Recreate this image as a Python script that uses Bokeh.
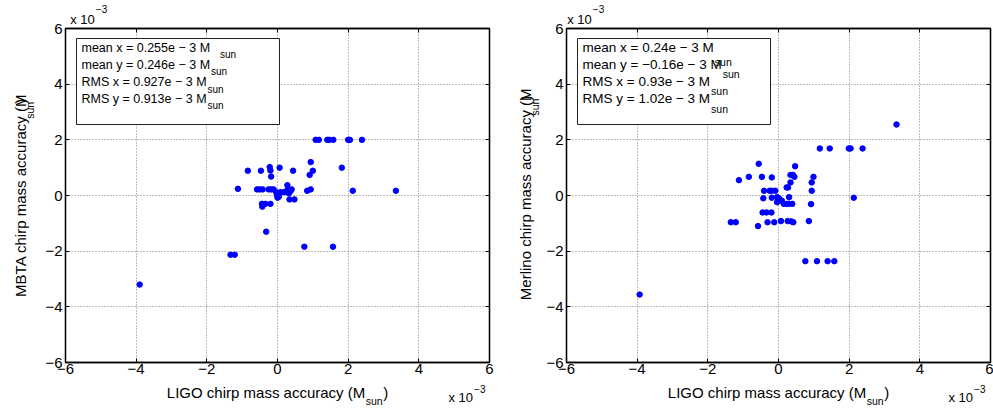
import math
from bokeh.plotting import figure
from bokeh.models import Range1d, FixedTicker, LinearAxis, Label, BoxAnnotation
from bokeh.layouts import row, column
from bokeh.embed import file_html
from bokeh.resources import INLINE

# ---------------- data (units of 1e-3 M_sun) ----------------
mbta_ligo_x = [1.08, 1.17, 1.41, 1.47, 1.58, 2.00, 2.05, 2.39,
               0.94, -0.84, -0.47, -0.22, -0.20, 0.06, 0.44, 1.00, 0.91, 1.82,
               -0.18, -1.12, -0.58, -0.50, -0.42, -0.25, -0.18, -0.11,
               -0.04, 0.02, -0.01, 0.04, 0.00,
               0.08, 0.18, 0.27, 0.32, 0.37, 0.40, 0.28,
               0.84, 0.94, 2.13, 3.35,
               -0.44, -0.34, -0.20, -0.43, 0.34, 0.48,
               -0.32, 0.76, 1.57, -1.33, -1.21, -3.90]
mbta_y = [2.00, 2.00, 2.00, 2.00, 2.00, 2.00, 2.00, 2.00,
          1.20, 0.89, 0.89, 1.02, 0.90, 1.00, 0.89, 0.89, 0.74, 1.00,
          0.68, 0.24, 0.22, 0.22, 0.22, 0.22, 0.22, 0.22,
          0.12, 0.06, 0.00, -0.04, -0.08,
          0.12, 0.12, 0.18, 0.08, 0.16, 0.22, 0.37,
          0.17, 0.22, 0.17, 0.17,
          -0.30, -0.30, -0.30, -0.40, -0.14, -0.14,
          -1.30, -1.84, -1.84, -2.13, -2.13, -3.20]

merlino_ligo_x = [1.17, 1.45, 1.99, 2.04, 2.38,
                  -0.56, 0.47, -1.12, -0.84, -0.47, -0.19,
                  0.34, 0.41, 0.45, 0.99, 0.94, 0.34, 0.23, 0.27,
                  -0.41, -0.25, -0.19, -0.09, 0.94,
                  -0.43, -0.19,
                  -0.04, 0.01, 0.06, -0.04, 0.10, 0.15, 0.23, 0.29, 0.39,
                  0.30, 2.13, 0.92,
                  -0.45, -0.34, -0.20, -1.35, -1.21, -0.58, -0.31, -0.12,
                  0.07, 0.26, 0.36, 0.42, 0.86,
                  0.76, 1.09, 1.39, 1.58, 3.34, -3.93]
merlino_y = [1.69, 1.69, 1.69, 1.69, 1.69,
             1.14, 1.05, 0.55, 0.67, 0.67, 0.65,
             0.74, 0.74, 0.67, 0.67, 0.47, 0.47, 0.29, 0.29,
             0.17, 0.17, 0.17, 0.17, 0.17,
             -0.10, -0.08,
             -0.06, -0.10, -0.16, -0.24, -0.20, -0.30, -0.30, -0.30, -0.30,
             -0.06, -0.08, -0.31,
             -0.61, -0.61, -0.61, -0.96, -0.96, -1.10, -0.96, -0.96,
             -0.92, -0.92, -0.93, -0.96, -0.92,
             -2.36, -2.36, -2.36, -2.36, 2.55, -3.56]

ticks = [-6, -4, -2, 0, 2, 4, 6]
tick_labels = ["\u22126", "\u22124", "\u22122", "0", "2", "4", "6"]

mbta_stats = ["mean x = 0.255e \u2212 3 M", "mean y = 0.246e \u2212 3 M",
              "RMS x = 0.927e \u2212 3 M", "RMS y = 0.913e \u2212 3 M"]
merlino_stats = ["mean x = 0.24e \u2212 3 M", "mean y = \u22120.16e \u2212 3 M",
                 "RMS x = 0.93e \u2212 3 M", "RMS y = 1.02e \u2212 3 M"]
x_title = "LIGO chirp mass accuracy (M"
mbta_title = "MBTA chirp mass accuracy (M"
merlino_title = "Merlino chirp mass accuracy (M"
sub_txt = "sun"
scale_txt = "x 10"
scale_exp = "\u22123"

FONT = "Liberation Sans"
HELV = {' ': 278, '.': 278, '=': 584, '\u2212': 584, '(': 333, ')': 333,
        'a': 556, 'c': 500, 'e': 556, 'h': 556, 'i': 222, 'l': 222, 'm': 833,
        'n': 556, 'o': 556, 'p': 556, 'r': 333, 's': 500, 'u': 556, 'x': 500,
        'y': 500, 'A': 667, 'B': 667, 'G': 778, 'I': 278, 'L': 556, 'M': 833,
        'O': 778, 'R': 722, 'S': 667, 'T': 611}
K = 0.35   # label anchor sits this many ems above the drawn baseline


def tw(s, size):
    return sum(HELV.get(c, 556) for c in s) * size / 1000.0


def lab(fig, x, y, text, size, angle=0.0):
    fig.add_layout(Label(x=x, y=y, text=text, text_font=FONT, text_font_size=f"{size}px",
                         text_align="left", text_baseline="alphabetic", text_color="black",
                         angle=angle, angle_units="rad"))


MAIN_H, BOT_H = 384, 24
BT, BB = 28, 22          # frame top at 28, bottom at 362
FW, FH = 424, MAIN_H - BT - BB


def strip(w, h):
    s = figure(width=w, height=h, x_range=Range1d(0, w), y_range=Range1d(0, h),
               min_border=0, x_axis_location=None, y_axis_location=None,
               toolbar_location=None, tools="", output_backend="svg",
               background_fill_color="white", border_fill_color="white")
    s.outline_line_color = None
    s.xgrid.visible = False
    s.ygrid.visible = False
    return s


def px_axis(tick, text, size, standoff):
    return LinearAxis(x_range_name="px", ticker=FixedTicker(ticks=[tick]),
                      major_label_overrides={tick: text},
                      axis_line_color=None, major_tick_line_color=None,
                      minor_tick_line_color=None, major_tick_in=0, major_tick_out=0,
                      major_label_standoff=standoff, major_label_text_font=FONT,
                      major_label_text_font_size=f"{size}px", major_label_text_color="black")


def main_fig(xs, ys, width, bl, stats, st_size, st_sub, box_r, line_extra, scale_dx):
    br = width - bl - FW
    p = figure(width=width, height=MAIN_H, x_range=Range1d(-6, 6), y_range=Range1d(-6, 6),
               min_border_left=bl, min_border_right=br, min_border_top=BT,
               min_border_bottom=BB, output_backend="svg", toolbar_location=None,
               tools="", background_fill_color="white", border_fill_color="white")

    def X(dx):
        return -6 + dx * 12.0 / FW

    def Y(dy):
        return 6 - dy * 12.0 / FH

    p.outline_line_color = "black"
    p.outline_line_width = 1.3
    for ax in (p.xaxis[0], p.yaxis[0]):
        ax.ticker = FixedTicker(ticks=ticks)
        ax.major_label_overrides = {t: l for t, l in zip(ticks, tick_labels)}
        ax.major_tick_in = 4
        ax.major_tick_out = 0
        ax.minor_tick_line_color = None
        ax.axis_line_width = 1.3
        ax.axis_line_color = "black"
        ax.major_tick_line_color = "black"
        ax.major_label_text_font = FONT
        ax.major_label_text_font_size = "15px"
        ax.major_label_text_color = "black"
    p.xaxis.major_label_standoff = 1
    p.yaxis.major_label_standoff = 3
    for loc in ("above", "right"):
        a = LinearAxis(ticker=FixedTicker(ticks=ticks), major_tick_in=4, major_tick_out=0,
                       minor_tick_line_color=None, major_label_text_color=None,
                       major_label_standoff=0, axis_line_width=1.3, axis_line_color="black")
        p.add_layout(a, loc)

    # "x 10^-3" scale factor above the frame: axes in frame-pixel units
    p.extra_x_ranges = {"px": Range1d(0, FW)}
    tick_c = round(scale_dx + tw(scale_txt, 13) / 2)
    sup_c = round(scale_dx + tw(scale_txt, 13) + 1 + tw(scale_exp, 10) / 2)
    p.add_layout(px_axis(tick_c, scale_txt, 13, 2), "above")
    p.add_layout(px_axis(sup_c, scale_exp, 10, -4), "above")

    for g in (p.xgrid[0], p.ygrid[0]):
        g.ticker = FixedTicker(ticks=ticks)
        g.grid_line_color = "#7a7a7a"
        g.grid_line_dash = "1 2"
        g.grid_line_width = 1

    p.scatter(xs, ys, size=5.5, color="#0000ff", line_color="#0000ff")

    p.add_layout(BoxAnnotation(left=X(11), right=X(box_r), top=Y(10), bottom=Y(96),
                               fill_color="white", fill_alpha=1.0, line_color="#222222",
                               line_width=1, line_alpha=1.0))
    baselines = [23.5, 40.5, 58, 74.5]
    for i, s in enumerate(stats):
        lab(p, X(16), Y(baselines[i] - K * st_size), s, st_size)
        gx, gy = line_extra[i]
        lab(p, X(16 + tw(s, st_size) + 1 + gx), Y(baselines[i] + 6 + gy - K * st_sub),
            sub_txt, st_sub)
    return p


def x_title_strip(w, center_x, scale_x):
    s = strip(w, BOT_H)
    H = BOT_H
    T, S = 15, 10.5
    L = tw(x_title, T) + 1 + tw(sub_txt, S) + tw(")", T)
    x0 = center_x - L / 2
    lab(s, x0, H - (13 - K * T), x_title, T)
    xs1 = x0 + tw(x_title, T) + 0.5
    lab(s, xs1, H - (20 - K * S), sub_txt, S)
    lab(s, xs1 + tw(sub_txt, S) + 0.5, H - (13 - K * T), ")", T)
    lab(s, scale_x, H - (18 - K * 13), scale_txt, 13)
    lab(s, scale_x + tw(scale_txt, 13) + 1, H - (8 - K * 10), scale_exp, 10)
    return s


def y_title_strip(w, base_x, center_y, text):
    s = strip(w, MAIN_H)
    H = MAIN_H
    T, S = 15, 10.5
    L = tw(text, T) + 1 + tw(sub_txt, S) + tw(")", T)
    y0 = center_y + L / 2
    a = math.pi / 2
    lab(s, base_x - K * T, H - y0, text, T, a)
    ys1 = y0 - tw(text, T) - 0.5
    lab(s, base_x + 8 - K * S, H - ys1, sub_txt, S, a)
    lab(s, base_x - K * T, H - (ys1 - tw(sub_txt, S) - 0.5), ")", T, a)
    return s


# ---------------- panel 1 (page x 0..500) ----------------
m1 = main_fig(mbta_ligo_x, mbta_y, 460, 25, mbta_stats, 12.5, 10, 214,
              [(9, 0), (0, 0), (0, 0), (0, 0)], 5)
col1 = column(row(y_title_strip(40, 25, 195, mbta_title), m1),
              x_title_strip(500, 277, 448))

# ---------------- panel 2 (page x 500..993) ----------------
m2 = main_fig(merlino_ligo_x, merlino_y, 453, 26, merlino_stats, 13.5, 10.5, 204,
              [(0, 8), (0, 3), (0, 2), (0, 4)], 1)
col2 = column(row(y_title_strip(40, 30, 195, merlino_title), m2),
              x_title_strip(493, 278, 448))

layout = row(col1, col2)
open("out.html", "w").write(file_html(layout, INLINE))
